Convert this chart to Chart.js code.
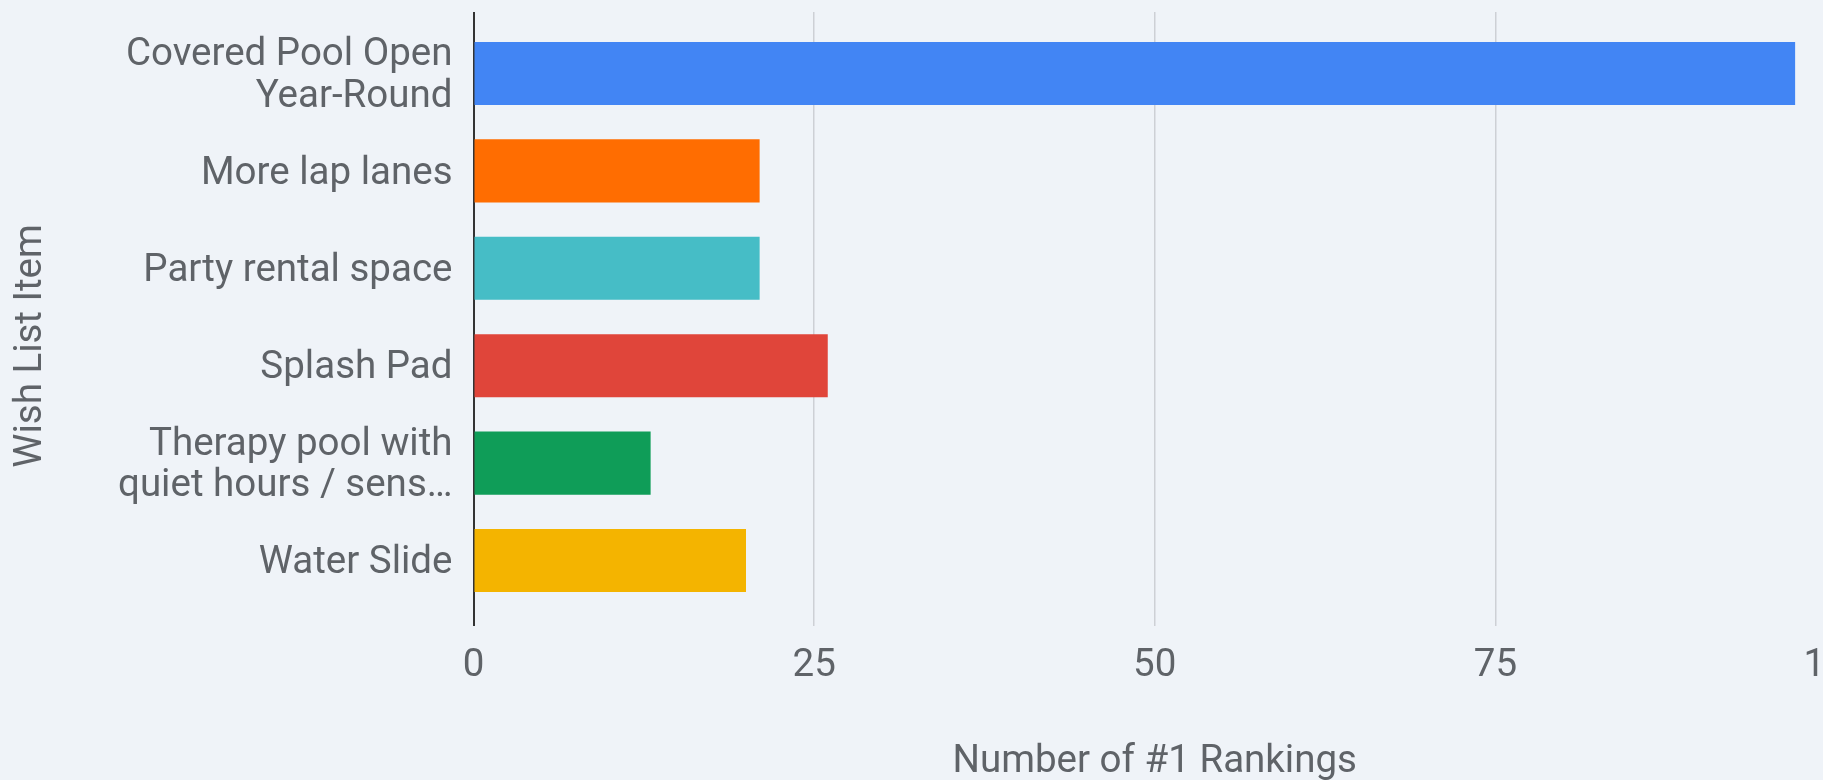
<!DOCTYPE html>
<html><head><meta charset="utf-8">
<script src="https://cdn.jsdelivr.net/npm/chart.js@4"></script>
<style>
html,body{margin:0;padding:0;background:#eff3f8;overflow:hidden;}
#wrap{position:relative;width:1900px;height:780px;}
</style></head><body>
<div id="wrap"><canvas id="c"></canvas></div>
<script>
const categories = [["Covered Pool Open","Year-Round"],"More lap lanes","Party rental space","Splash Pad",["Therapy pool with","quiet hours / sens…"],"Water Slide"];
const values = [97,21,21,26,13,20];
const barColors = ['#4285f4','#ff6d01','#46bdc6','#e0453a','#0f9d58','#f4b400'];
const xTickValues = [0,25,50,75,100];
const xTitle = 'Number of #1 Rankings';
const yTitle = 'Wish List Item';

const FS = 38.5;
const textColor = '#5f6368';
const fontFam = 'Roboto, "Noto Sans", sans-serif';

const yTitlePlugin = {
  id: 'yTitleDraw',
  afterDraw(chart) {
    const {ctx, chartArea} = chart;
    ctx.save();
    ctx.font = FS + 'px ' + fontFam;
    ctx.fillStyle = textColor;
    ctx.textAlign = 'center';
    ctx.textBaseline = 'middle';
    ctx.translate(31, (chartArea.top + chartArea.bottom) / 2 + 27);
    ctx.rotate(-Math.PI / 2);
    ctx.fillText(yTitle, 0, 0);
    ctx.restore();
  }
};

new Chart(document.getElementById('c'), {
  type: 'bar',
  data: {
    labels: categories,
    datasets: [{
      data: values,
      backgroundColor: barColors,
      borderWidth: 0,
      categoryPercentage: 1,
      barPercentage: 0.648
    }]
  },
  options: {
    indexAxis: 'y',
    responsive: true,
    maintainAspectRatio: false,
    animation: false,
    layout: { padding: { top: 12, right: 64, left: 0, bottom: 0 } },
    plugins: { legend: { display: false }, tooltip: { enabled: false } },
    scales: {
      x: {
        type: 'linear',
        min: 0, max: 100,
        afterBuildTicks(scale) { scale.ticks = xTickValues.map(v => ({ value: v })); },
        afterFit(scale) { scale.height = 154; scale.paddingLeft = 0; scale.paddingRight = 0; },
        ticks: { font: { family: fontFam, size: FS, lineHeight: 1.2 }, color: textColor, padding: 40 - 0.6 * FS },
        grid: {
          drawTicks: false,
          color: ctx => (ctx.tick && ctx.tick.value === 0) ? '#333333' : '#cdd0d5',
          lineWidth: ctx => (ctx.tick && ctx.tick.value === 0) ? 2 : 1.5
        },
        border: { display: false },
        title: { display: true, text: xTitle, font: { family: fontFam, size: FS, lineHeight: 1.2 }, color: textColor, padding: { top: 0, bottom: 18 - 0.6 * FS } }
      },
      y: {
        afterBuildTicks(scale) {
          const padTop = 0.131, padBottom = 0.172;
          scale._startValue = -0.5 - padTop;
          scale._valueRange = categories.length + padTop + padBottom;
        },
        afterFit(scale) { scale.width = 473.5; scale.paddingTop = 0; scale.paddingBottom = 0; },
        ticks: { font: { family: fontFam, size: FS, lineHeight: 41.5 / FS }, color: textColor, padding: 21, labelOffset: 3 },
        grid: { display: false, drawTicks: false },
        border: { display: false }
      }
    }
  },
  plugins: [yTitlePlugin]
});
</script>
</body></html>
